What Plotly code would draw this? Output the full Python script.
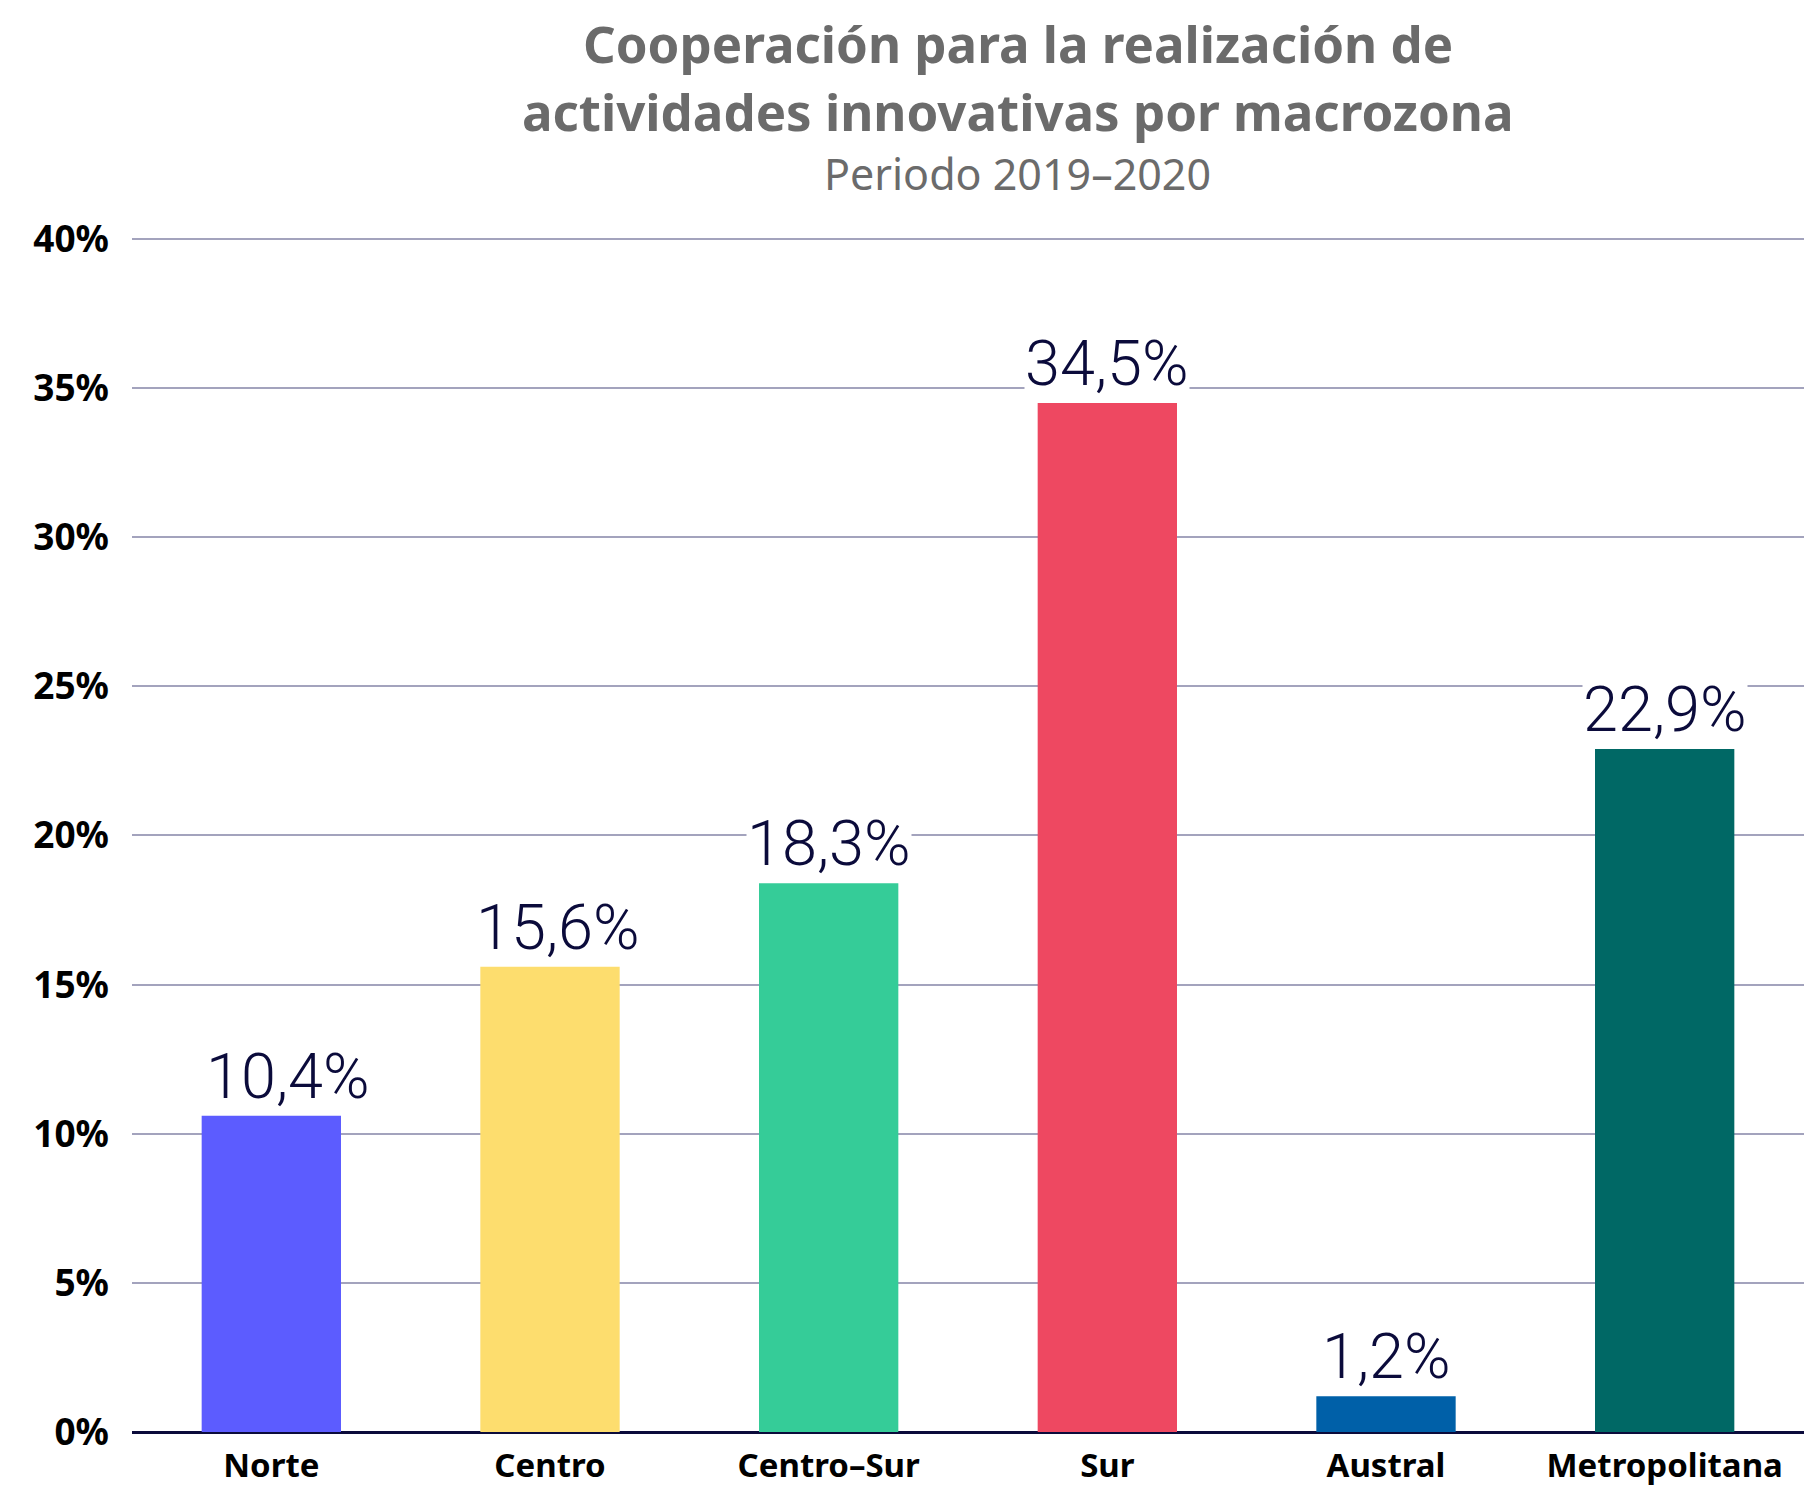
import plotly.graph_objects as go

# macrozonas y porcentaje de empresas que cooperaron (lectura del gráfico)
zonas = ["Norte", "Centro", "Centro–Sur", "Sur", "Austral", "Metropolitana"]
valores = [10.6, 15.6, 18.4, 34.5, 1.2, 22.9]
etiquetas = ["10,4%", "15,6%", "18,3%", "34,5%", "1,2%", "22,9%"]
colores = ["#5c5cff", "#fddd6e", "#35cc98", "#ee4861", "#0060a8", "#006865"]

y_ticks = [0, 5, 10, 15, 20, 25, 30, 35, 40]
y_labels = [f"{t}%" for t in y_ticks]

W, H = 1814, 1490
M = dict(l=124, r=18, t=228, b=66)

# pequeño corrimiento horizontal de algunas etiquetas, como en el original
desplaz_etiqueta = {"Norte": 17, "Centro": 8}

fig = go.Figure()

fig.add_trace(go.Bar(
    x=zonas,
    y=valores,
    marker_color=colores,
    marker_line_width=0,
    width=0.5,
    hoverinfo="skip",
))

# etiquetas de valor con fondo blanco (tapan la línea de grilla)
for z, v, t in zip(zonas, valores, etiquetas):
    fig.add_annotation(
        x=z, y=v, text=t,
        yanchor="bottom", yshift=2, xshift=desplaz_etiqueta.get(z, 0),
        showarrow=False,
        bgcolor="white", borderpad=0,
        font=dict(family="Roboto", size=63, color="#0b0b3b", weight=300),
    )

fig.update_layout(
    width=W,
    height=H,
    margin=dict(**M, autoexpand=False),
    plot_bgcolor="white",
    paper_bgcolor="white",
    showlegend=False,
    font=dict(family="Noto Sans", color="black"),
)

fig.update_yaxes(
    range=[0, 40.1],
    tickvals=y_ticks,
    ticktext=y_labels,
    tickfont=dict(family="Noto Sans", size=37, color="black", weight="bold"),
    showgrid=True,
    gridcolor="#a3a3bd",
    gridwidth=2,
    zeroline=True,
    zerolinecolor="#0b0b3b",
    zerolinewidth=3,
    ticks="",
    ticklabelstandoff=22,
    automargin=False,
)

fig.update_xaxes(
    tickfont=dict(family="Noto Sans", size=33, color="black", weight="bold"),
    showline=False,
    ticks="",
    ticklabelstandoff=11,
    automargin=False,
)

# título y subtítulo, ubicados en píxeles del lienzo
plot_w = W - M["l"] - M["r"]
plot_h = H - M["t"] - M["b"]


def paper_y(px):
    return 1 + (M["t"] - px) / plot_h


cx = (1010 - M["l"]) / plot_w
titulos = [
    ("<b>Cooperación para la realización de</b>", 35, 51),
    ("<b>actividades innovativas por macrozona</b>", 103, 51),
    ("Periodo 2019–2020", 166, 43),
]
for texto, py, size in titulos:
    fig.add_annotation(
        text=texto,
        x=cx, xref="paper", y=paper_y(py), yref="paper", yanchor="middle",
        showarrow=False,
        font=dict(family="Noto Sans", size=size, color="#6b6b6b"),
    )

fig.write_html("out.html")
